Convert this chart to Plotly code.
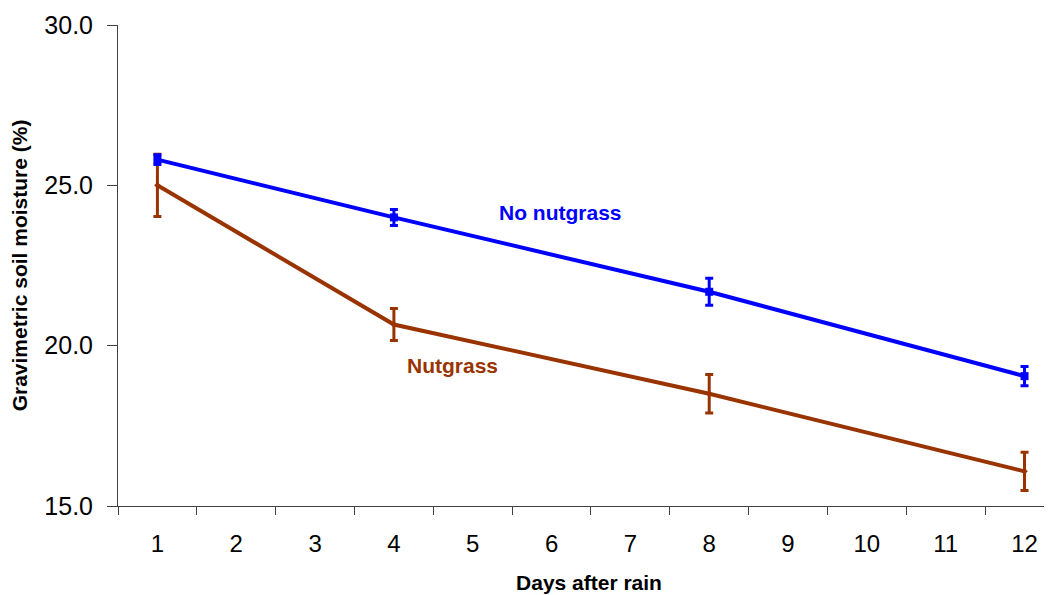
import plotly.graph_objects as go

days = ["1", "2", "3", "4", "5", "6", "7", "8", "9", "10", "11", "12"]
sample_days = ["1", "4", "8", "12"]
no_nutgrass = [25.8, 24.0, 21.68, 19.05]
no_nutgrass_err = [0.15, 0.25, 0.42, 0.3]
nutgrass = [25.0, 20.66, 18.5, 16.08]
nutgrass_err = [0.97, 0.5, 0.6, 0.6]

BLUE = "#0000FF"
BROWN = "#993300"
FONT = "Liberation Sans, Arial, sans-serif"

fig = go.Figure()
fig.add_trace(go.Scatter(
    x=sample_days, y=nutgrass, mode="lines+markers",
    line=dict(color=BROWN, width=4),
    marker=dict(color=BROWN, size=5, symbol="diamond"),
    error_y=dict(type="data", array=nutgrass_err, color=BROWN, thickness=3, width=4),
    showlegend=False,
))
fig.add_trace(go.Scatter(
    x=sample_days, y=no_nutgrass, mode="lines+markers",
    line=dict(color=BLUE, width=4),
    marker=dict(color=BLUE, size=8, symbol="square"),
    error_y=dict(type="data", array=no_nutgrass_err, color=BLUE, thickness=3, width=4),
    showlegend=False,
))

fig.add_annotation(x=5.11, y=24.14, text="<b>No nutgrass</b>", showarrow=False,
                   font=dict(color=BLUE, size=21, family=FONT))
fig.add_annotation(x=3.74, y=19.37, text="<b>Nutgrass</b>", showarrow=False,
                   font=dict(color=BROWN, size=21, family=FONT))

fig.update_layout(
    width=1052, height=595,
    margin=dict(l=110, r=0, t=17, b=97),
    paper_bgcolor="white", plot_bgcolor="white",
    font=dict(family=FONT, color="black"),
    xaxis=dict(
        type="category", categoryorder="array", categoryarray=days,
        tickvals=days, ticktext=days, automargin=False,
        range=[-0.5, 11.45], tickson="boundaries",
        ticks="outside", ticklen=8, tickcolor="#404040", tickwidth=1,
        showline=True, linecolor="#404040", linewidth=1,
        showgrid=False, zeroline=False,
        tickfont=dict(size=24), ticklabelstandoff=16,
        title=dict(text="<b>Days after rain</b>", font=dict(size=21), standoff=19),
    ),
    yaxis=dict(
        range=[15, 30], tickvals=[15, 20, 25, 30], tickformat=".1f",
        automargin=False,
        ticks="outside", ticklen=10, tickcolor="#404040", tickwidth=1,
        showline=True, linecolor="#404040", linewidth=1,
        showgrid=False, zeroline=False,
        tickfont=dict(size=25), ticklabelstandoff=9,
        title=dict(text="<b>Gravimetric soil moisture (%)</b>", font=dict(size=21), standoff=10),
    ),
)

fig.write_html("out.html")
